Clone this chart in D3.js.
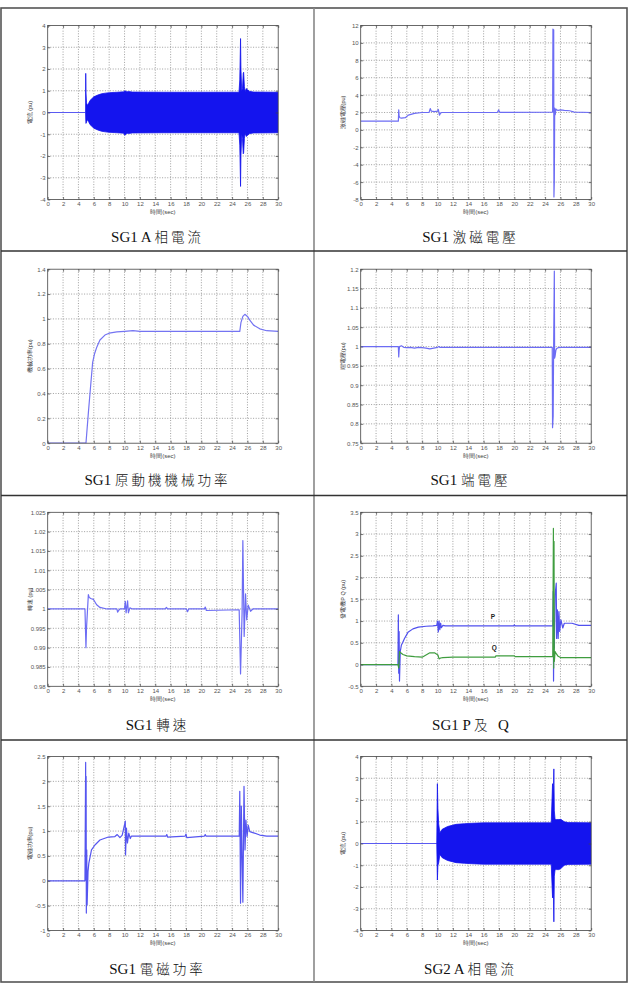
<!DOCTYPE html>
<html><head><meta charset="utf-8">
<script src="https://cdn.jsdelivr.net/npm/d3@7"></script>
<style>
body{margin:0;background:#fff;}
svg{display:block;}
</style></head>
<body>
<script>
// ---------- DATA ----------
const xTickValues = [0,2,4,6,8,10,12,14,16,18,20,22,24,26,28,30];
const xLabel = "時間(sec)";

// chart 1: SG1 A-phase current (envelope of the AC waveform)
const sg1CurT     = [0,4.93,4.95,4.98,5.05,5.15,5.3,5.5,6.0,6.5,7.0,7.5,8.0,9.0,9.9,10.05,10.3,10.6,11,15,20,24.9,25.0,25.1,25.15,25.25,25.35,25.45,25.5,25.6,25.7,25.85,26.0,26.3,26.8,30];
const sg1CurUpper = [0,0,1.8,0.9,0.45,0.33,0.4,0.55,0.72,0.8,0.86,0.89,0.91,0.93,0.95,1.0,0.95,0.96,0.94,0.93,0.93,0.93,1.5,3.4,2.0,1.0,1.1,1.8,1.85,1.2,0.95,1.1,1.05,0.97,0.94,0.93];
const sg1CurLower = [0,0,-0.3,-0.5,-0.45,-0.33,-0.4,-0.55,-0.72,-0.8,-0.86,-0.89,-0.91,-0.93,-0.95,-1.05,-0.95,-0.96,-0.94,-0.93,-0.93,-0.93,-1.5,-3.4,-2.0,-1.0,-1.2,-1.9,-1.85,-1.2,-0.95,-1.1,-1.05,-0.97,-0.94,-0.93];
const sg1CurTicks = [-4,-3,-2,-1,0,1,2,3,4];

// chart 2: SG1 excitation voltage
const excT = [0,4.9,4.95,5.0,5.1,5.3,5.8,6.2,7.0,8.0,8.9,9.05,9.2,9.6,10.0,10.1,10.25,10.4,10.6,12,17.8,17.95,18.1,24.98,25.02,25.08,25.12,25.15,25.2,25.25,25.32,25.4,25.5,25.7,26.0,26.5,27.2,27.8,30];
const excV = [1.0,1.0,2.3,1.6,1.4,1.35,1.4,1.7,1.9,2.0,2.02,2.45,2.15,2.1,2.15,2.35,1.7,1.95,2.0,2.0,2.02,2.3,2.02,2.05,11.6,11.0,11.5,-7.7,-6.0,2.5,1.75,2.4,2.3,2.25,2.3,2.25,2.2,2.05,2.0];
const excTicks = [-8,-6,-4,-2,0,2,4,6,8,10,12];

// chart 3: SG1 prime mover mechanical power
const mechT = [0,4.98,5.3,5.6,5.85,6.1,6.4,6.8,7.45,8,9,10,11.1,12,15,20,25.0,25.15,25.4,25.66,26.0,26.3,26.8,27.6,28.5,30];
const mechV = [0,0,0.25,0.47,0.65,0.72,0.775,0.83,0.87,0.885,0.895,0.9,0.905,0.9,0.9,0.9,0.9,0.97,1.02,1.037,1.02,0.99,0.95,0.92,0.905,0.9];
const mechTicks = [0,0.2,0.4,0.6,0.8,1,1.2,1.4];

// chart 4: SG1 terminal voltage
const vtT = [0,4.9,4.95,5.0,5.05,5.3,5.6,6,6.5,7,7.5,8,8.5,9,9.5,10,10.2,10.3,12,24.93,24.97,25.05,25.1,25.2,25.24,25.3,25.4,25.5,25.7,26,30];
const vtV = [1,1,0.973,0.99,1.0,1.002,0.998,0.997,0.998,0.996,0.998,0.997,0.996,0.994,0.996,0.998,1.0,0.998,0.998,0.998,0.79,0.82,0.97,1.195,0.97,0.975,0.99,0.995,0.997,0.998,0.998];
const vtTicks = [0.75,0.8,0.85,0.9,0.95,1,1.05,1.1,1.15,1.2];

// chart 5: SG1 speed
const spdT = [0,4.85,4.98,5.05,5.29,5.4,5.6,5.94,6.37,6.8,7.7,9,9.1,9.2,9.4,10.0,10.1,10.2,10.3,10.4,10.5,10.7,11,15.3,15.45,15.6,18.05,18.2,18.35,20.4,20.5,20.65,24.92,25.1,25.3,25.4,25.57,25.75,25.9,26.1,26.4,26.7,30];
const spdV = [1,1,0.99,0.995,1.0037,1.003,1.0027,1.0025,1.0011,1.0004,1.0,1.0,0.9992,0.9995,1.0,1.0,1.002,0.999,1.0005,1.0021,0.999,1.0003,1.0,1.0,1.0004,1.0,1.0,0.9993,1.0,1.0,1.0005,0.9996,0.9998,0.9832,0.999,1.0177,0.9929,1.0039,0.9972,1.001,0.9994,1.0,1.0];
const spdTicks = [0.98,0.985,0.99,0.995,1,1.005,1.01,1.015,1.02,1.025];

// chart 6: SG1 P and Q
const pT = [0,4.85,4.9,4.95,5.0,5.05,5.15,5.3,5.45,5.7,6.15,6.8,7.5,8.5,9.4,9.9,10.0,10.1,10.2,10.3,10.4,10.5,10.7,11,15,19.9,20.0,20.1,25.0,25.06,25.1,25.15,25.2,25.3,25.45,25.5,25.6,25.7,25.8,25.9,26.05,26.3,26.5,26.7,27.5,28.4,30];
const pV = [0,0,1.14,-0.2,0.76,-0.38,0.3,0.45,0.5,0.6,0.74,0.82,0.86,0.88,0.89,0.9,1.0,0.75,1.0,0.8,0.95,0.85,0.9,0.89,0.89,0.89,0.91,0.89,0.89,1.68,-0.38,1.07,0.38,1.6,1.87,0.6,1.26,0.6,1.22,0.76,1.03,0.84,0.95,0.95,0.95,0.9,0.9];
const qT = [0,4.85,4.95,5.05,5.2,5.5,6,7,8,9.0,9.6,10.05,10.2,10.4,10.7,12,17.5,17.6,20,20.1,25.0,25.08,25.12,25.16,25.2,25.3,25.45,25.7,26,30];
const qV = [0,0,-0.08,0.3,0.27,0.23,0.2,0.18,0.17,0.27,0.27,0.22,0.13,0.15,0.16,0.17,0.17,0.2,0.2,0.18,0.18,3.13,-0.08,2.83,0.07,0.3,0.25,0.19,0.16,0.16];
const pqTicks = [-0.5,0,0.5,1,1.5,2,2.5,3,3.5];
const pqNames = ["P","Q"];
const pqLabelPos = [[17.2,1.09],[17.4,0.39]];

// chart 7: SG1 electrical power
const peT = [0,4.85,4.94,4.97,5.0,5.03,5.08,5.13,5.25,5.35,5.7,6.15,6.8,7.9,8.75,9.05,9.4,9.7,10.1,10.13,10.25,10.38,10.55,10.75,10.9,12,15.4,15.5,15.6,17.9,18.0,18.1,20.4,20.5,20.6,24.93,25.0,25.1,25.2,25.3,25.4,25.55,25.68,25.8,25.95,26.1,26.3,26.7,27.6,28.5,30];
const peV = [0,0,2.38,0.02,2.1,-0.65,0.62,-0.48,0.19,0.35,0.62,0.72,0.82,0.88,0.89,0.93,0.87,0.92,1.2,0.52,1.06,0.76,0.96,0.85,0.9,0.9,0.9,0.93,0.88,0.9,0.94,0.87,0.9,0.93,0.9,0.9,1.8,-0.45,1.5,0.5,-0.43,1.9,0.62,1.22,0.89,1.12,0.99,0.97,0.92,0.9,0.9];
const peTicks = [-1,-0.5,0,0.5,1,1.5,2,2.5];

// chart 8: SG2 A-phase current (envelope)
const sg2CurT     = [0,9.9,9.98,10.05,10.15,10.3,10.6,11.3,12.4,13.5,14.5,16,24.8,24.97,25.08,25.14,25.2,25.3,25.5,25.8,26.05,26.5,27,30];
const sg2CurUpper = [0,0,2.75,1.6,0.9,0.5,0.65,0.78,0.88,0.91,0.93,0.95,0.95,2.75,2.2,3.43,1.5,1.1,1.1,1.1,1.11,1.0,0.96,0.95];
const sg2CurLower = [0,0,-1.68,-1.0,-0.9,-0.5,-0.65,-0.78,-0.88,-0.91,-0.93,-0.95,-0.95,-2.5,-2.0,-3.6,-1.5,-1.2,-1.2,-1.2,-1.15,-1.0,-0.96,-0.95];

const yLabels = ["電流 (pu)","激磁電壓(pu)","機械功率(pu)","端電壓(pu)","轉速 (pu)","發電機P Q (pu)","電磁功率(pu)","電流 (pu)"];
const captionLatin = ["SG1 A ","SG1 ","SG1 ","SG1 ","SG1 ","SG1 P ","SG1 ","SG2 A "];
const captionCJK   = ["相電流","激磁電壓","原動機機械功率","端電壓","轉速","及","電磁功率","相電流"];
const captionTail  = ["","","","","","  Q","",""];

// ---------- LAYOUT ----------
const W = 633, H = 988;
const colX = [1, 314];
const rowY = [8, 251, 495.5, 740, 982];
const plotTopAbs = [25.5, 269.2, 512.3, 756.5];
const plotW = 230.5, plotH = 174;
const lineBlue = "#6c6cf4", bandBlue = "#1414ee", qGreen = "#3f9d3f";

const charts = [
  {yDomain:[-4,4], ticks:sg1CurTicks, series:[{type:"band", t:sg1CurT, hi:sg1CurUpper, lo:sg1CurLower}]},
  {yDomain:[-8,12], ticks:excTicks, series:[{type:"line", t:excT, v:excV, color:lineBlue}]},
  {yDomain:[0,1.4], ticks:mechTicks, series:[{type:"line", t:mechT, v:mechV, color:"#7474f2"}]},
  {yDomain:[0.75,1.2], ticks:vtTicks, series:[{type:"line", t:vtT, v:vtV, color:lineBlue}]},
  {yDomain:[0.98,1.025], ticks:spdTicks, series:[{type:"line", t:spdT, v:spdV, color:lineBlue}]},
  {yDomain:[-0.5,3.5], ticks:pqTicks, series:[{type:"line", t:pT, v:pV, color:"#5050ee"},{type:"line", t:qT, v:qV, color:qGreen}], labels:true},
  {yDomain:[-1,2.5], ticks:peTicks, series:[{type:"line", t:peT, v:peV, color:"#5555f0"}]},
  {yDomain:[-4,4], ticks:sg1CurTicks, series:[{type:"band", t:sg2CurT, hi:sg2CurUpper, lo:sg2CurLower}]}
];

const svg = d3.select("body").append("svg").attr("width", W).attr("height", H)
  .style("font-family", "Arial, 'Liberation Sans', sans-serif");

// table grid
const tbl = svg.append("g").attr("stroke", "#555").attr("fill", "none");
tbl.append("rect").attr("x", 1).attr("y", rowY[0]).attr("width", 626).attr("height", rowY[4]-rowY[0]).attr("stroke-width", 1.6);
tbl.append("line").attr("x1", colX[1]).attr("x2", colX[1]).attr("y1", rowY[0]).attr("y2", rowY[4]).attr("stroke-width", 1.6).attr("stroke", "#888");
[1,2,3].forEach(r => tbl.append("line").attr("x1", 1).attr("x2", 627).attr("y1", rowY[r]).attr("y2", rowY[r]).attr("stroke-width", 1.3).attr("stroke", "#333"));

charts.forEach((c, i) => {
  const col = i % 2, row = Math.floor(i / 2);
  const left = colX[col] + 46.7, top = plotTopAbs[row];
  const x = d3.scaleLinear().domain([0, 30]).range([left, left + plotW]);
  const y = d3.scaleLinear().domain(c.yDomain).range([top + plotH, top]);
  const g = svg.append("g");

  g.append("rect").attr("x", left).attr("y", top).attr("width", plotW).attr("height", plotH).attr("fill", "#fff");

  // grid
  const grid = g.append("g").attr("stroke", "#777").attr("stroke-width", 0.7).attr("stroke-dasharray", "1,1.6");
  xTickValues.slice(1, -1).forEach(v => grid.append("line").attr("x1", x(v)).attr("x2", x(v)).attr("y1", top).attr("y2", top + plotH));
  c.ticks.slice(1, -1).forEach(v => grid.append("line").attr("x1", left).attr("x2", left + plotW).attr("y1", y(v)).attr("y2", y(v)));

  // data
  const clipId = "clip" + i;
  g.append("clipPath").attr("id", clipId).append("rect").attr("x", left).attr("y", top).attr("width", plotW).attr("height", plotH);
  const dg = g.append("g").attr("clip-path", `url(#${clipId})`);
  c.series.forEach(s => {
    if (s.type === "band") {
      const pts = s.t.map((t, k) => [t, s.hi[k], s.lo[k]]);
      const zeroEnd = pts.findIndex(p => p[1] !== 0);
      dg.append("path").datum(pts.slice(0, zeroEnd))
        .attr("d", d3.line().x(p => x(p[0])).y(p => y(p[1])))
        .attr("fill", "none").attr("stroke", "#5a5af2").attr("stroke-width", 1.1);
      dg.append("path").datum(pts.slice(zeroEnd - 1))
        .attr("d", d3.area().x(p => x(p[0])).y0(p => y(p[2])).y1(p => y(p[1])))
        .attr("fill", bandBlue).attr("stroke", bandBlue).attr("stroke-width", 0.8);
    } else {
      const pts = s.t.map((t, k) => [t, s.v[k]]);
      dg.append("path").datum(pts)
        .attr("d", d3.line().x(p => x(p[0])).y(p => y(p[1])))
        .attr("fill", "none").attr("stroke", s.color).attr("stroke-width", 1.2).attr("stroke-linejoin", "round");
    }
  });

  // frame
  g.append("rect").attr("x", left).attr("y", top).attr("width", plotW).attr("height", plotH)
    .attr("fill", "none").attr("stroke", "#444").attr("stroke-width", 0.8);

  // axes
  const axB = d3.axisBottom(x).tickValues(xTickValues).tickSizeInner(-2.5).tickSizeOuter(0).tickPadding(2.6).tickFormat(d => String(d));
  const axL = d3.axisLeft(y).tickValues(c.ticks).tickSizeInner(-2.5).tickSizeOuter(0).tickPadding(2).tickFormat(d => String(d));
  const axT = d3.axisTop(x).tickValues(xTickValues).tickSizeInner(-2.5).tickSizeOuter(0).tickFormat("");
  const axR = d3.axisRight(y).tickValues(c.ticks).tickSizeInner(-2.5).tickSizeOuter(0).tickFormat("");
  [[axB, `translate(0,${top + plotH})`], [axL, `translate(${left},0)`],
   [axT, `translate(0,${top})`], [axR, `translate(${left + plotW},0)`]].forEach(([ax, tr]) => {
    const a = g.append("g").attr("transform", tr).call(ax);
    a.select(".domain").remove();
    a.selectAll(".tick line").attr("stroke", "#444").attr("stroke-width", 0.7);
    a.selectAll(".tick text").attr("fill", "#555").style("font-size", "6px").style("font-family", "Arial, 'Liberation Sans', sans-serif");
  });

  // axis labels
  g.append("text").attr("x", left + plotW / 2).attr("y", top + plotH + 14.5)
    .attr("text-anchor", "middle").attr("fill", "#444").style("font-size", "6px").text(xLabel);
  g.append("text").attr("transform", `translate(${left - 15.5},${top + plotH / 2}) rotate(-90)`)
    .attr("text-anchor", "middle").attr("fill", "#333").style("font-size", "5.5px").text(yLabels[i]);

  // P / Q labels
  if (c.labels) {
    pqNames.forEach((n, k) => g.append("text").attr("x", x(pqLabelPos[k][0])).attr("y", y(pqLabelPos[k][1]))
      .attr("text-anchor", "middle").attr("dy", "0.35em").attr("fill", "#222").style("font-size", "6.5px").style("font-weight", "bold").text(n));
  }

  // caption
  const cx = (colX[col] + (col === 0 ? colX[1] : 627)) / 2;
  const cap = svg.append("text").attr("x", cx).attr("y", rowY[row] + 234).attr("text-anchor", "middle")
    .attr("fill", "#111").style("font-size", "15px");
  cap.append("tspan").style("font-family", "'Liberation Serif','Times New Roman',serif").text(captionLatin[i]);
  cap.append("tspan").style("font-family", "'Noto Sans CJK TC','Noto Sans CJK SC',sans-serif").style("font-weight", "300")
    .style("font-size", "13.5px").style("letter-spacing", "3px").text(captionCJK[i]);
  if (captionTail[i]) cap.append("tspan").style("font-family", "'Liberation Serif','Times New Roman',serif").attr("xml:space","preserve").text(captionTail[i]);
});
</script>
</body></html>
